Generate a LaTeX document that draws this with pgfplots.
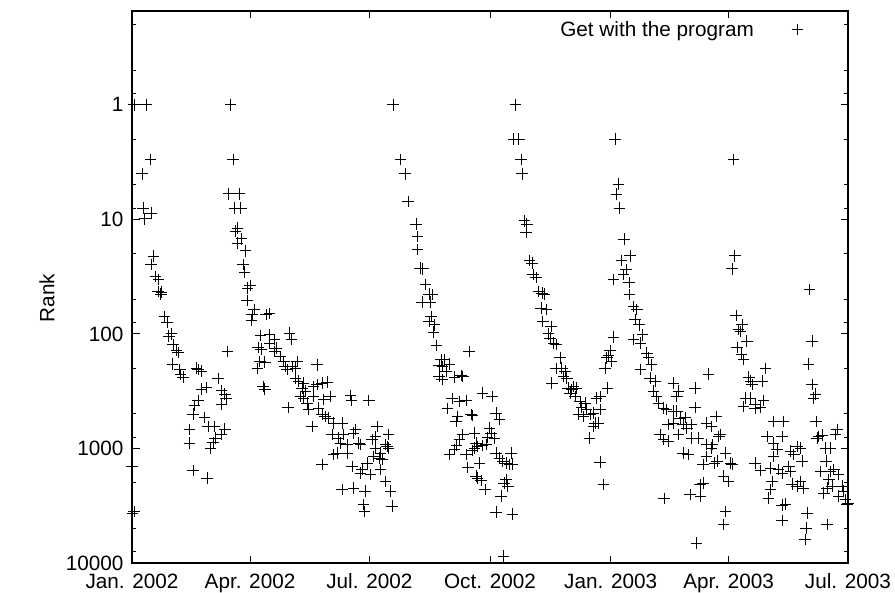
\documentclass[border=0pt]{standalone}
\usepackage{fontspec}
\setmainfont{Liberation Sans}
\usepackage{pgfplots}
\pgfplotsset{compat=1.18}
\usepackage{pgfplotstable}

% day (0 = 1 Jan 2002) and rank
\pgfplotstableread{
day rank
1.5 1
10.9 1
75.0 1
14.0 3.0
7.6 4.0
77.0 3.0
73.7 6.0
81.6 6.0
78.3 8.0
82.9 8.0
8.4 8.0
14.7 8.8
9.7 9.9
80.3 11.9
78.8 12.7
83.4 14.8
80.3 16.1
86.4 18.8
16.5 20.9
14.7 24.9
84.6 24.9
85.9 29
17.8 31.5
20.3 33.6
19.8 42.6
21.9 44.9
22.4 43.1
90.2 37.7
88.0 39.8
87.7 51
93.0 61.5
91.5 68
91.0 75.6
24.9 70.3
26.7 79.3
105.0 66.6
102.4 68
30.0 100
28.0 105
31.3 124
33.8 140
35.1 145
98.1 103
96.1 131
105.0 102
105.0 120
108.8 112
110.0 133
108.8 142
98.6 136
30.8 183
36.4 205
37.1 227
38.9 239
72.7 142
97.4 174
101.2 177
95.6 201
99.9 289
101.2 303
49.1 199
52.9 212
50.3 205
65.6 246
68.1 313
70.7 335
71.9 368
68.1 409
56.7 293
52.9 303
50.3 383
47.8 421
46.5 500
55.4 535
58.0 641
63.0 641
70.7 676
68.1 758
63.5 811
61.8 884
60.0 1004
44.0 686
44.0 896
0.0 1432
46.5 1552
57.2 1811
1.5 3538
0.3 3656
199.0 1
204.6 3.0
208.4 4.0
210.5 7.0
120.0 98.3
121.5 112
113.1 157
115.7 174
116.9 192
118.2 205
122.0 192
124.6 199
125.8 174
141.1 186
124.6 243
127.1 259
130.9 268
129.6 297
132.2 317
138.5 287
141.1 277
144.9 268
148.7 263
119.0 438
128.4 351
130.9 363
133.5 401
138.5 351
146.2 375
151.2 351
134.7 459
142.3 443
144.9 507
147.4 525
166.5 344
167.3 383
180.5 383
137.3 641
150.0 542
153.8 600
160.1 600
152.5 758
157.6 811
161.4 758
170.3 686
169.0 733
158.9 896
164.0 926
172.9 896
174.1 926
183.0 838
185.6 784
186.8 641
195.7 758
193.2 926
194.5 958
195.7 991
153.8 1133
156.3 1096
164.0 1096
185.6 991
184.3 1172
189.4 1096
190.6 1253
188.5 1211
144.9 1384
167.8 1432
174.1 1637
175.4 1531
179.2 1339
181.8 1694
189.4 1531
160.1 2287
169.0 2213
177.9 2366
193.2 1936
197.0 2366
176.6 3092
177.4 3538
198.3 3199
292.3 1
291.1 2
294.9 2
296.6 3
297.4 4
299.2 10.3
301.0 11.0
300.5 12.9
303.0 22.8
305.0 24.1
306.0 30.4
308.1 32.1
310.1 42.6
312.7 44.0
314.4 44.9
311.9 59.5
316.2 61.5
313.2 77.8
319.5 86
317.7 100
318.8 109
321.3 120
323.3 124
323.3 201
320.1 268
216.6 11.0
217.8 14.1
217.8 18.4
219.6 26.6
221.7 27.0
223.7 37.2
226.7 44.9
229.3 45.5
221.2 52.7
227.3 52.7
228.0 70.3
226.7 77.8
230.6 83.2
229.8 96.4
232.3 126
257.2 142
235.6 168
238.2 168
234.3 188
236.9 192
242.0 183
239.4 212
234.3 235
236.4 251
245.8 239
250.9 230
252.2 235
244.0 368
249.6 388
254.7 383
267.4 328
274.5 351
240.7 449
248.3 525
247.1 580
258.5 507
259.8 517
277.6 490
280.1 561
261.1 733
252.2 758
249.6 838
247.6 939
245.8 1024
242.0 1133
272.5 663
273.8 733
271.2 800
276.3 811
270.0 926
267.4 939
262.3 896
263.6 958
259.8 1046
254.7 1133
261.1 991
264.9 1339
256.0 1462
277.6 1096
280.1 1211
282.7 1294
285.2 1339
289.0 1096
290.3 1367
287.8 1384
262.3 1750
263.6 1811
266.1 1910
269.4 2287
285.2 1871
283.9 2001
286.5 2138
281.4 2616
277.6 3583
290.3 3732
283.2 8730
368.3 2.0
370.9 4.93
369.6 6.02
371.6 7.97
375.4 14.9
379.8 20.8
373.4 22.8
376.7 27.5
374.7 30.4
367.1 33.6
379.1 35.5
379.3 45.5
382.3 57.5
384.9 61.5
383.6 75.2
386.6 83.2
382.3 112
389.2 102
387.9 120
392.5 147
393.8 162
396.3 186
387.9 205
395.0 243
398.8 259
397.6 317
400.1 351
401.4 401
405.2 443
407.7 459
412.8 268
415.4 351
416.6 317
412.8 474
415.4 474
408.9 620
412.8 600
417.9 542
421.7 535
420.1 620
423.0 663
426.8 620
416.6 758
426.8 811
431.9 811
402.6 758
405.2 838
408.9 866
429.4 297
429.4 438
439.5 224
438.2 600
438.2 926
438.2 1172
420.1 1096
424.2 1133
435.6 1384
433.1 2070
435.6 2001
425.5 2530
433.6 2616
405.7 2742
430.6 6680
326.4 162
327.7 199
330.2 212
329.0 235
331.5 243
332.7 297
335.3 307
336.6 287
339.1 297
334.0 328
337.8 351
341.6 388
345.4 401
342.9 438
346.7 459
340.4 500
344.2 525
349.3 507
351.8 490
356.9 459
354.3 363
356.9 351
353.1 600
355.6 600
351.8 641
348.8 811
367.1 107
364.5 140
363.3 155
362.0 162
360.7 199
365.8 174
362.7 297
356.9 1312
359.4 2070
458.8 3.0
459.6 20.8
457.5 27.0
516.5 41.1
460.6 68.9
462.6 91.9
465.2 83.2
463.9 95.0
468.9 116
461.4 131
464.7 150
466.4 168
518.6 116
516.0 183
470.3 239
471.5 259
472.8 277
480.4 259
483.0 201
518.6 277
521.1 335
519.8 363
467.7 363
471.5 363
475.3 415
466.4 429
475.3 443
479.2 435
481.7 383
445.3 525
441.8 641
448.6 758
447.4 784
489.3 580
496.9 580
484.2 784
495.7 784
521.6 580
523.6 784
522.4 811
526.2 767
537.6 686
536.4 758
442.3 926
441.8 991
452.5 1096
446.1 1294
444.3 1339
456.3 1339
457.5 1367
489.3 896
491.9 1024
489.3 1172
502.0 1059
507.1 958
509.7 991
504.6 1133
510.9 1294
475.3 1339
479.2 1563
486.8 1480
493.1 1531
495.7 1637
502.0 1585
500.8 1432
451.2 1750
455.0 1936
488.1 1936
486.8 2287
485.5 2704
503.3 2042
507.1 2138
509.7 1936
512.2 2213
495.7 3134
498.2 3053
495.7 4266
452.5 3538
451.2 4623
514.7 3656
513.9 4943
513.4 6250
530.0 4623
528.7 991
532.5 991
529.2 1294
524.9 1585
532.5 1585
535.1 1531
538.9 1694
531.3 1871
530.0 2213
533.8 2138
527.5 2447
541.4 2138
542.7 2366
538.9 2616
544.0 2799
545.2 3092
546.0 2992
}\rankdata

\begin{document}
\begin{tikzpicture}[font=\fontsize{20.8}{25}\selectfont]
\begin{axis}[
    scale only axis,
    width=716bp, height=552bp,
    xmin=0, xmax=546,
    ymode=log, y dir=reverse,
    ymin=0.152, ymax=10000,
    xtick={0,90,181,273,365,455,546},
    xticklabels={Jan. 2002,Apr. 2002,Jul. 2002,Oct. 2002,Jan. 2003,Apr. 2003,Jul. 2003},
    ytick={1,10,100,1000,10000},
    yticklabels={1,10,100,1000,10000},
    minor ytick={0.2,0.5,0.8,2,5,8,20,50,80,200,500,800,2000,5000,8000},
    tick align=inside,
    major tick length=7.5bp,
    minor tick length=4bp,
    axis line style={line width=1.2bp},
    every tick/.style={black, line width=1bp},
    xticklabel style={anchor=base, yshift=-25.5bp},
    yticklabel style={xshift=-5bp},
    ylabel={Rank},
    ylabel style={at={(axis description cs:-0.1187,0.48)}, anchor=center},
    clip=false,
    legend plot pos=right,
    legend style={draw=none, fill=none, inner sep=0pt,
        at={(axis description cs:0.938,0.982)}, anchor=north east,
        column sep=38bp, nodes={inner sep=0pt}},
]
\addplot[only marks, mark=+, mark size=5.8bp, line width=0.8bp, black] table {\rankdata};
\addlegendentry{Get with the program}
\end{axis}
\pgfresetboundingbox
\path (-132bp,-30bp) rectangle (763bp,563bp);
\end{tikzpicture}
\end{document}
